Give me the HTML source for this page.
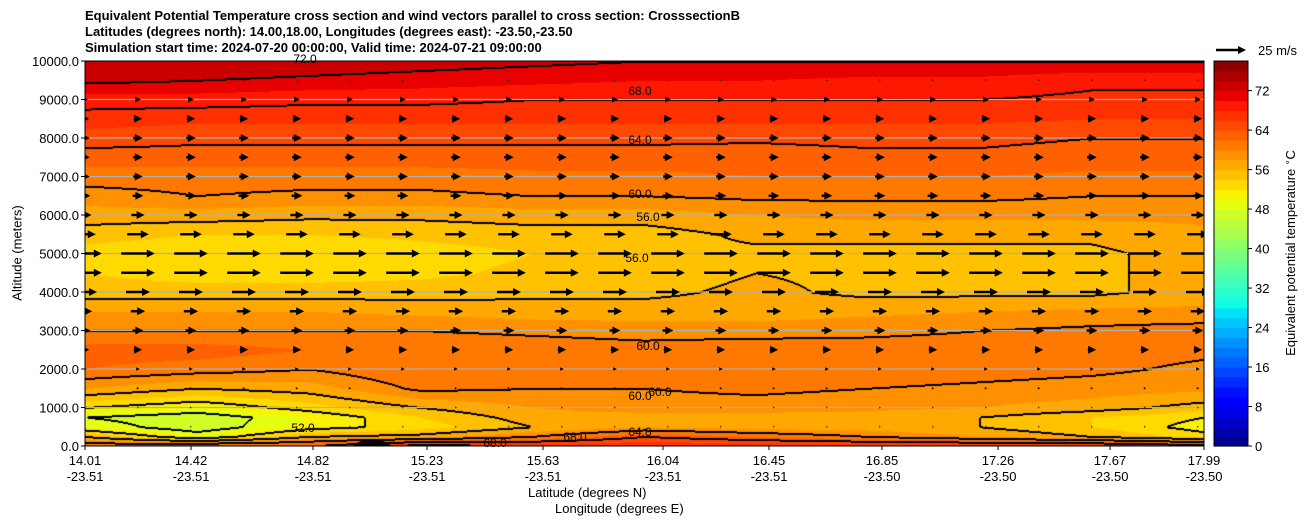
<!DOCTYPE html>
<html><head><meta charset="utf-8"><style>
body{margin:0;background:#fff;width:1308px;height:526px;overflow:hidden;font-family:"Liberation Sans",sans-serif;position:relative}
.t{position:absolute;white-space:nowrap;color:#000}
.title{font-weight:bold;font-size:13px;left:85px}
</style></head><body>
<div class="t title" style="top:8px">Equivalent Potential Temperature cross section and wind vectors parallel to cross section: CrosssectionB</div>
<div class="t title" style="top:24px">Latitudes (degrees north): 14.00,18.00, Longitudes (degrees east): -23.50,-23.50</div>
<div class="t title" style="top:40px">Simulation start time: 2024-07-20 00:00:00, Valid time: 2024-07-21 09:00:00</div>
<canvas id="cv" width="1119" height="385" style="position:absolute;left:85px;top:61px"></canvas>
<svg id="ov" width="1308" height="526" style="position:absolute;left:0;top:0"></svg>
<script>
const altitudes=[0,250,500,750,1000,1500,2000,2500,3000,3500,4000,4500,5000,5500,6000,6500,7000,7500,8000,8500,9000,9500,10000];
const colsTheta=[
[62,56,50,48,52,58,62,63,60,58,55,54,53,55,57,59,61,63,65,67,69,72.5,74],
[64,50,46,46,50,56,61,63,60,58,55,53,52,54,57,60,61,63,64.5,66.5,69,72,74],
[64,56,51,50,53,57,60,62,60,58,55,53,52,54,56.5,59.5,61,63,64.5,66.5,68.5,71.5,73.5],
[70,57,53,54,56,60.5,62,62,60,57.5,55,53.5,53,54.5,56.5,59.5,61,63,64.5,66.5,68.5,71,73],
[68,60,56,57,58,60,62,61.5,59.5,57,55.5,54.5,54,55,57,60,61.5,63,64.5,66.5,68,70.5,72.5],
[68,64,58,57,59,60,62,61,59,57,55.5,55,55.5,55,57,60,61.5,63,64.5,66.5,68,70,72],
[68,62,57,57,59,60.5,62,61.5,59,57,56.5,56,55.5,56.5,58,60.5,62,63,64.3,66.5,68,70,72],
[68,60,57,57,58.5,60,61.5,61,59.5,57.5,55.5,55.5,55.5,56.5,58.5,60.5,62,63.5,64.5,66.5,68,69.5,72],
[68,58,56,56,58,59.5,61,61,60,58,55.5,55.5,55.5,56.5,58.5,60.5,62,63.5,64.5,66.5,68,69.5,72],
[68,56,54,54,57,59,60.5,61,60.5,58.5,55.5,55.5,55.5,56.5,58.5,60,61.5,63,64,66,67.5,68.5,72],
[66,53,51,52,55,58.5,59.5,60.5,61,58.5,57,57,57,57.5,58.5,60,61.5,63,64,66,67.5,68.5,72]];
const windAltitudes=[500,1000,1500,2000,2500,3000,3500,4000,4500,5000,5500,6000,6500,7000,7500,8000,8500,9000,9500];
const windSpeed=[1,1,2,3,7,9,12,20,28,28,18,11,9,8,8,8,7,5,1];
const yTicks=[0,1000,2000,3000,4000,5000,6000,7000,8000,9000,10000];
const latLabels=["14.01","14.42","14.82","15.23","15.63","16.04","16.45","16.85","17.26","17.67","17.99"];
const lonLabels=["-23.51","-23.51","-23.51","-23.51","-23.51","-23.51","-23.51","-23.50","-23.50","-23.50","-23.50"];
const xTickPix=[85,191,313,427,543,663,769,882,998,1110,1204];
const cbTicks=[0,8,16,24,32,40,48,56,64,72];

const PX=85,PY=61,PW=1119,PH=385,VMAX=78;
const yOf=a=>PY+PH-a/10000*PH;
function seg(pts,t){for(let i=0;i<pts.length-1;i++){const[a,va]=pts[i],[b,vb]=pts[i+1];if(t>=a&&t<=b)return va+(vb-va)*(t-a)/(b-a);}return pts[pts.length-1][1];}
const JR=[[0,0],[0.35,0],[0.66,1],[0.89,1],[1,0.5]],JG=[[0,0],[0.125,0],[0.375,1],[0.64,1],[0.91,0],[1,0]],JB=[[0,0.5],[0.11,1],[0.34,1],[0.65,0],[1,0]];
function jet(t){return[seg(JR,t),seg(JG,t),seg(JB,t)].map(v=>Math.round(v*255));}
function bandColor(v){let b=Math.max(0,Math.min(38,Math.floor(v/2)));return jet((b+0.5)/39);}
function valAt(px,py){
  const fx=px/(PW-1)*(colsTheta.length-1);let i=Math.min(colsTheta.length-2,Math.floor(fx));const tx=fx-i;
  const alt=(PH-py)/PH*10000;let j=0;while(j<altitudes.length-2&&altitudes[j+1]<alt)j++;
  const ty=Math.max(0,Math.min(1,(alt-altitudes[j])/(altitudes[j+1]-altitudes[j])));
  const a=colsTheta[i][j]*(1-ty)+colsTheta[i][j+1]*ty,b=colsTheta[i+1][j]*(1-ty)+colsTheta[i+1][j+1]*ty;
  return a*(1-tx)+b*tx;}
const cv=document.getElementById('cv'),ctx=cv.getContext('2d'),img=ctx.createImageData(PW,PH);
const V=new Float32Array(PW*PH);
for(let y=0;y<PH;y++)for(let x=0;x<PW;x++)V[y*PW+x]=valAt(x,y);
const K=(x,y)=>Math.floor(V[Math.max(0,Math.min(PH-1,y))*PW+Math.max(0,Math.min(PW-1,x))]/4);
for(let y=0;y<PH;y++)for(let x=0;x<PW;x++){
  const v=V[y*PW+x];let col=bandColor(v);const k=Math.floor(v/4);
  const ns=[K(x+1,y),K(x-1,y),K(x,y+1),K(x,y-1)];
  let edge=false;for(const n of ns){if(n!==k&&Math.max(n,k)*4>=48)edge=true;}
  if(edge)col=[0,0,0];
  const o=(y*PW+x)*4;img.data[o]=col[0];img.data[o+1]=col[1];img.data[o+2]=col[2];img.data[o+3]=255;}
ctx.putImageData(img,0,0);

const NS='http://www.w3.org/2000/svg',ov=document.getElementById('ov');
function mk(tag,at,parent){const e=document.createElementNS(NS,tag);for(const k in at)e.setAttribute(k,at[k]);(parent||ov).appendChild(e);return e;}
const cp=mk('clipPath',{id:'pc'});mk('rect',{x:PX,y:PY,width:PW,height:PH},cp);
yTicks.forEach(a=>{if(a>0&&a<10000){const g=mk('line',{x1:PX,x2:PX+PW,y1:yOf(a),y2:yOf(a),stroke:'#b0b0b0','stroke-width':1.2});

}});
const gb=mk('path',{d:'M352 446 Q372 432 392 446 Z',fill:'#000'});


const ag=mk('g',{'clip-path':'url(#pc)'});
function arrow(cx,y,len,name,parent,pivotTail){
  const g=mk('g',{},parent);
  
  
  const x=pivotTail?cx:cx-len/2;
  const hl=Math.min(len,8),hw=Math.min(4,Math.max(1.2,len/2));
  if(len>hl)mk('line',{x1:x,x2:x+len-hl+1,y1:y,y2:y,stroke:'#000','stroke-width':2.4},g);
  mk('path',{d:`M${x+len} ${y} L${x+len-hl} ${y-hw} L${x+len-hl} ${y+hw} Z`,fill:'#000'},g);}
windAltitudes.forEach((a,r)=>{for(let i=0;i<22;i++){arrow(85+53*i,yOf(a),windSpeed[r]*1.2,'wind-arrow',ag,false);}});
arrow(1216,50,30,'wind-key-arrow',ov,true);
const fr=mk('rect',{x:PX,y:PY,width:PW,height:PH,fill:'none',stroke:'#000','stroke-width':1});


const labs=[[640,95,'68.0'],[640,144,'64.0'],[640,198,'60.0'],[648,221,'56.0'],[637,262,'56.0'],[648,350,'60.0'],[640,400,'60.0'],[660,396,'60.0'],[303,432,'52.0'],[495,447,'68.0'],[575,441,'68.0'],[640,436,'64.0'],[305,63,'72.0']];
labs.forEach(l=>{const t=mk('text',{x:l[0],y:l[1],'font-size':12,'text-anchor':'middle','font-family':'Liberation Sans, sans-serif'});t.textContent=l[2];

});
yTicks.forEach(a=>{const l=mk('line',{x1:PX-4,x2:PX,y1:yOf(a),y2:yOf(a),stroke:'#000'});


const t=mk('text',{x:PX-6,y:yOf(a)+5,'font-size':13,'text-anchor':'end','font-family':'Liberation Sans, sans-serif'});t.textContent=a.toFixed(1);

});
xTickPix.forEach((x,i)=>{const l=mk('line',{x1:x,x2:x,y1:PY+PH,y2:PY+PH+4,stroke:'#000'});


const t=mk('text',{x:x,y:465,'font-size':13,'text-anchor':'middle','font-family':'Liberation Sans, sans-serif'});t.textContent=latLabels[i];


const t2=mk('text',{x:x,y:481,'font-size':13,'text-anchor':'middle','font-family':'Liberation Sans, sans-serif'});t2.textContent=lonLabels[i];

});
const CX=1214,CW=34;
for(let b=0;b<39;b++){const c=jet((b+0.5)/39);const y0=PY+PH-(b+1)*2/VMAX*PH;
const r=mk('rect',{x:CX,y:y0,width:CW,height:2/VMAX*PH+0.6,fill:`rgb(${c})`});

}
const cf=mk('rect',{x:CX,y:PY,width:CW,height:PH,fill:'none',stroke:'#000'});


cbTicks.forEach(v=>{const y=PY+PH-v/VMAX*PH;const l=mk('line',{x1:CX+CW,x2:CX+CW+4,y1:y,y2:y,stroke:'#000'});


const t=mk('text',{x:CX+CW+7,y:y+5,'font-size':13,'font-family':'Liberation Sans, sans-serif'});t.textContent=v;

});
</script>
<div class="t" style="left:1258px;top:43px;font-size:13px">25 m/s</div>
<div class="t" style="left:1290px;top:253px;font-size:13px;transform:translate(-50%,-50%) rotate(-90deg)">Equivalent potential temperature <sup style="font-size:9px">∘</sup>C</div>
<div class="t" style="left:17px;top:253px;font-size:13px;transform:translate(-50%,-50%) rotate(-90deg)">Altitude (meters)</div>
<div class="t" style="left:528px;top:485px;font-size:13px">Latitude (degrees N)</div>
<div class="t" style="left:555px;top:501px;font-size:13px">Longitude (degrees E)</div>
</body></html>
